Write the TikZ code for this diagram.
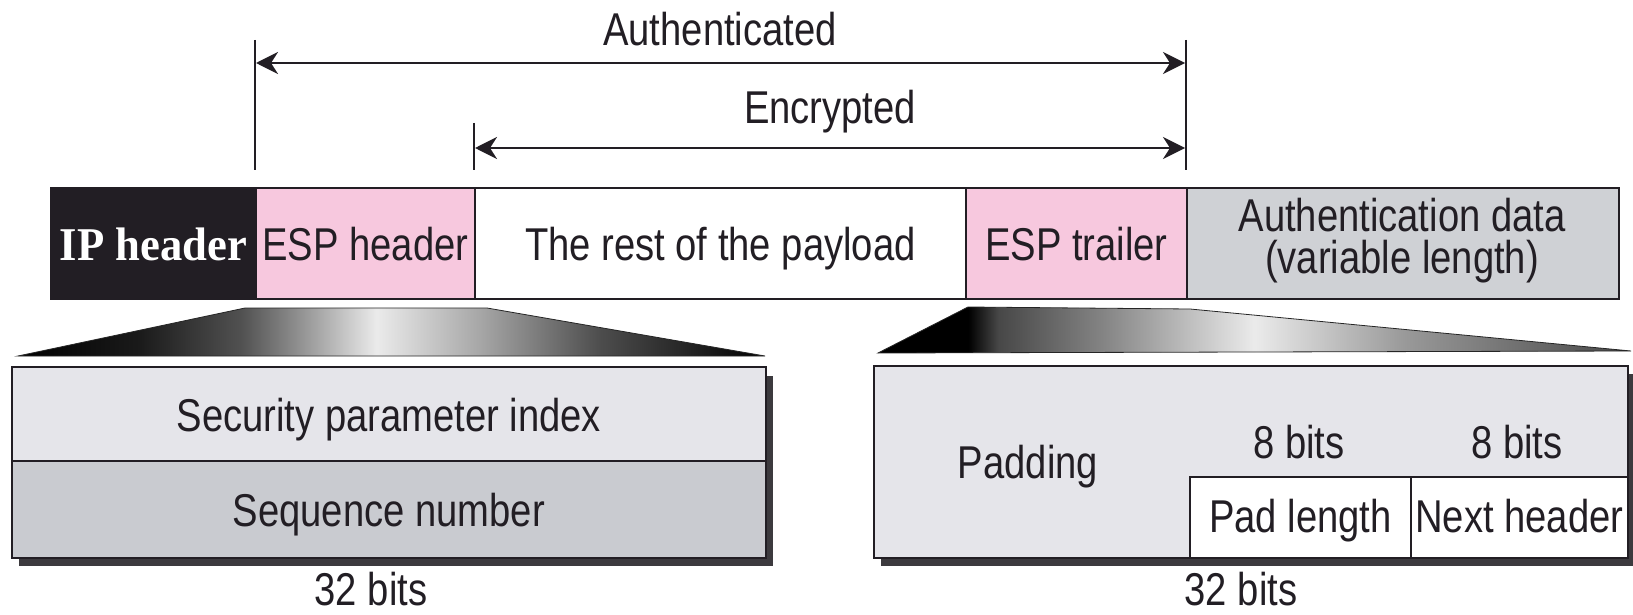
\documentclass[tikz,border=0pt]{standalone}
\usepackage{fontspec}
\setmainfont{Liberation Sans}[FakeStretch=0.83]
\newfontfamily\ipfont{Liberation Serif}[FakeStretch=0.95]
\usetikzlibrary{arrows.meta}

\definecolor{inkc}{RGB}{34,30,36}
\definecolor{esppink}{RGB}{247,200,222}
\definecolor{authgray}{RGB}{207,209,213}
\definecolor{cellpale}{RGB}{229,229,234}
\definecolor{cellmid}{RGB}{201,203,208}
\definecolor{shadowc}{RGB}{60,58,62}

% horizontal gradients for the two expansion wedges
\pgfdeclarehorizontalshading{wedgeleft}{100bp}{%
  color(0bp)=(black); color(25bp)=(black); color(33bp)=(black!90);
  color(40bp)=(black!68); color(44bp)=(black!42); color(49bp)=(white!92!black);
  color(56bp)=(black!35); color(64bp)=(black!70); color(75bp)=(black); color(100bp)=(black)}
\pgfdeclarehorizontalshading{wedgeright}{100bp}{%
  color(0bp)=(black); color(25bp)=(black); color(31bp)=(black);
  color(33bp)=(black!72); color(40bp)=(black!48); color(50bp)=(white!92!black);
  color(60bp)=(black!40); color(75bp)=(black!72); color(100bp)=(black!72)}

\newcommand\fieldfont{\fontsize{46}{42}\selectfont}

\tikzset{
  fld/.style={draw=inkc, line width=1.6pt, anchor=north west, inner sep=0pt,
    text=inkc, font=\fieldfont, text height=35pt, text depth=0pt},
  txt/.style={inner sep=0pt, text=inkc, font=\fieldfont, anchor=base},
  tickln/.style={draw=inkc, line width=2pt},
  dimarrow/.style={draw=inkc, line width=2.6pt,
    {Stealth[length=22pt,width=22pt,inset=7pt]}-{Stealth[length=22pt,width=22pt,inset=7pt]}},
  wedge/.style={draw=black!85, line width=0.8pt},
}

\begin{document}
\begin{tikzpicture}[x=1pt,y=-1pt]
\useasboundingbox (0,0) rectangle (1633,615);
\fill[white] (0,0) rectangle (1633,615);

% ---- packet layout ----
\node[fld, fill=inkc, text=white, minimum width=205pt, minimum height=111pt,
      font=\ipfont\bfseries\fontsize{47}{44}\selectfont] (ip) at (50,187) {IP header};
\node[fld, fill=esppink, minimum width=219pt, minimum height=111pt] (esph) at (255,187) {ESP header};
\node[fld, fill=white, minimum width=491pt, minimum height=111pt] (pay) at (474,187) {The rest of the payload};
\node[fld, fill=esppink, minimum width=221pt, minimum height=111pt] (trl) at (965,187) {ESP trailer};
\node[fld, fill=authgray, minimum width=432pt, minimum height=111pt] (auth) at (1186,187) {};
\node[txt, align=center, anchor=center] (authtxt) at (1402,241)
  {Authentication data\\(variable length)};

% ---- coverage arrows ----
\coordinate (atop) at (255,40);  \coordinate (abot) at (255,170);
\coordinate (etop) at (474,123); \coordinate (ebot) at (474,170);
\coordinate (rtop) at (1186,40); \coordinate (rbot) at (1186,170);
\draw[tickln] (atop) -- (abot);
\draw[tickln] (etop) -- (ebot);
\draw[tickln] (rtop) -- (rbot);
\coordinate (aL) at (256,63);  \coordinate (aR) at (1185,63);
\coordinate (eL) at (475,148); \coordinate (eR) at (1185,148);
\draw[dimarrow] (aL) -- (aR);
\draw[dimarrow] (eL) -- (eR);
\node[txt] (authlbl) at (720,46) {Authenticated};
\node[txt] (enclbl) at (830,124) {Encrypted};

% ---- expansion wedges ----
\shade[shading=wedgeleft, wedge] (245,308) -- (487,308) -- (765,356) -- (18,356) -- cycle;
\shade[shading=wedgeright, wedge] (968,307) -- (1190,309) -- (1631,351) -- (878,353) -- cycle;

% ---- ESP header detail ----
\fill[shadowc] (19,376) rectangle (773,566);
\node[fld, fill=cellpale, minimum width=754pt, minimum height=94pt] (spi) at (11,366)
  {Security parameter index};
\node[fld, fill=cellmid, minimum width=754pt, minimum height=97pt] (seq) at (11,460)
  {Sequence number};
\node[txt] (bitsl) at (371,605) {32 bits};

% ---- ESP trailer detail ----
\fill[shadowc] (881,374) rectangle (1640,566);
\node[fld, fill=cellpale, minimum width=754pt, minimum height=192pt, text height=0pt] (padf) at (873,365) {};
\node[fld, fill=white, minimum width=221pt, minimum height=81pt, text height=30pt] (padlen) at (1189,476) {Pad length};
\node[fld, fill=white, minimum width=217pt, minimum height=81pt, text height=30pt] (nexth) at (1410,476) {Next header};
\node[txt] (padtxt) at (1028,478) {Padding};
\node[txt] (b8a) at (1299,458) {8 bits};
\node[txt] (b8b) at (1517,458) {8 bits};
\node[txt] (bitsr) at (1241,605) {32 bits};
\end{tikzpicture}
\end{document}
